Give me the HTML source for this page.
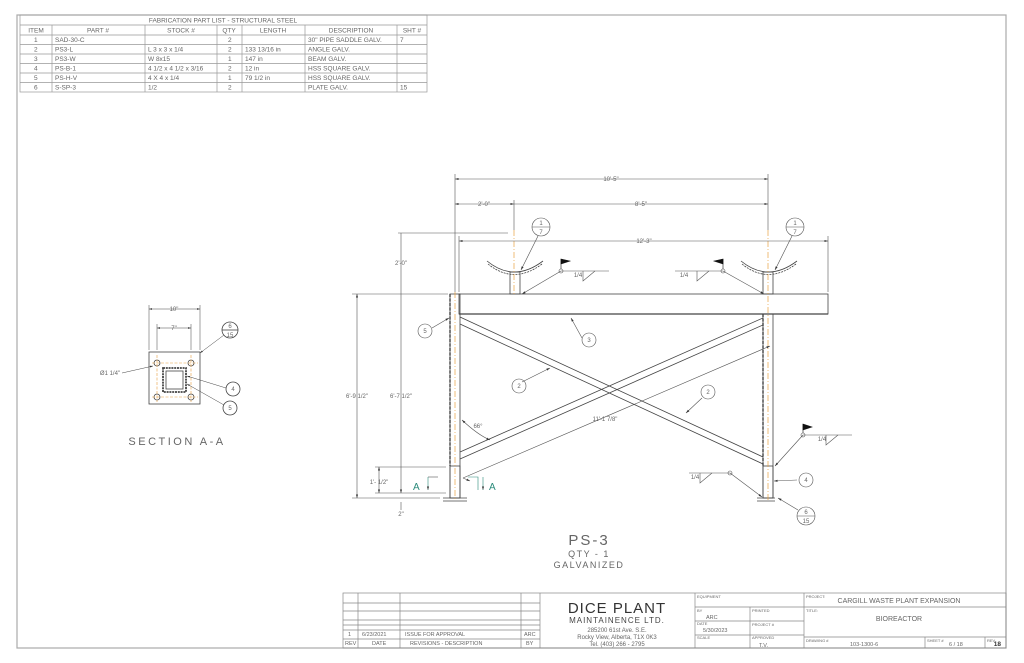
<!DOCTYPE html>
<html><head><meta charset="utf-8"><style>
html,body{margin:0;padding:0;background:#fff;}
svg{display:block;}
text{font-family:"Liberation Sans",sans-serif;fill:#666;}
</style></head><body>
<svg width="1024" height="663" viewBox="0 0 1024 663" xmlns="http://www.w3.org/2000/svg">
<defs>
<marker id="ar" viewBox="0 0 10 10" refX="10" refY="5" markerWidth="6" markerHeight="6" orient="auto-start-reverse"><path d="M0,2 L10,5 L0,8 z" fill="#333"/></marker>
</defs>
<!-- border -->
<rect x="17" y="15" width="989" height="633" fill="none" stroke="#aaa" stroke-width="1.2"/>

<!-- parts table -->
<g stroke="#999" stroke-width="0.7" fill="none">
<rect x="20" y="15" width="407" height="77"/>
<line x1="20" y1="25" x2="427" y2="25"/>
<line x1="20" y1="35" x2="427" y2="35"/>
<line x1="20" y1="44.5" x2="427" y2="44.5"/>
<line x1="20" y1="54" x2="427" y2="54"/>
<line x1="20" y1="63.5" x2="427" y2="63.5"/>
<line x1="20" y1="73" x2="427" y2="73"/>
<line x1="20" y1="82.5" x2="427" y2="82.5"/>
<line x1="52" y1="25" x2="52" y2="92"/><line x1="145" y1="25" x2="145" y2="92"/>
<line x1="217" y1="25" x2="217" y2="92"/><line x1="242" y1="25" x2="242" y2="92"/>
<line x1="305" y1="25" x2="305" y2="92"/><line x1="397" y1="25" x2="397" y2="92"/>
</g>
<g font-size="6.5">
<text x="223" y="22.5" text-anchor="middle">FABRICATION PART LIST - STRUCTURAL STEEL</text>
<text x="36" y="32.5" text-anchor="middle">ITEM</text><text x="98" y="32.5" text-anchor="middle">PART #</text>
<text x="181" y="32.5" text-anchor="middle">STOCK #</text><text x="229" y="32.5" text-anchor="middle">QTY</text>
<text x="273" y="32.5" text-anchor="middle">LENGTH</text><text x="351" y="32.5" text-anchor="middle">DESCRIPTION</text>
<text x="412" y="32.5" text-anchor="middle">SHT #</text>
<text x="34" y="42">1</text><text x="55" y="42">SAD-30-C</text><text x="228" y="42">2</text><text x="308" y="42">30" PIPE SADDLE GALV.</text><text x="400" y="42">7</text>
<text x="34" y="51.5">2</text><text x="55" y="51.5">PS3-L</text><text x="148" y="51.5">L 3 x 3 x 1/4</text><text x="228" y="51.5">2</text><text x="245" y="51.5">133 13/16 in</text><text x="308" y="51.5">ANGLE GALV.</text>
<text x="34" y="61">3</text><text x="55" y="61">PS3-W</text><text x="148" y="61">W 8x15</text><text x="228" y="61">1</text><text x="245" y="61">147 in</text><text x="308" y="61">BEAM GALV.</text>
<text x="34" y="70.5">4</text><text x="55" y="70.5">PS-B-1</text><text x="148" y="70.5">4 1/2 x 4 1/2 x 3/16</text><text x="228" y="70.5">2</text><text x="245" y="70.5">12 in</text><text x="308" y="70.5">HSS SQUARE GALV.</text>
<text x="34" y="80">5</text><text x="55" y="80">PS-H-V</text><text x="148" y="80">4 X 4 x 1/4</text><text x="228" y="80">1</text><text x="245" y="80">79 1/2 in</text><text x="308" y="80">HSS SQUARE GALV.</text>
<text x="34" y="89.5">6</text><text x="55" y="89.5">S-SP-3</text><text x="148" y="89.5">1/2</text><text x="228" y="89.5">2</text><text x="308" y="89.5">PLATE GALV.</text><text x="400" y="89.5">15</text>
</g>

<!-- main elevation -->
<g stroke="#444" stroke-width="0.8" fill="none">
<!-- beam -->
<rect x="459" y="294" width="369" height="20"/>
<line x1="459" y1="314" x2="828" y2="314" stroke-width="1.3"/>
<!-- left column -->
<rect x="450" y="294" width="10" height="204"/>
<line x1="450" y1="294" x2="450" y2="466" stroke-dasharray="3,1.5" stroke-width="1.4"/>
<rect x="450" y="466" width="10" height="32"/>
<line x1="443" y1="498" x2="467" y2="498"/><line x1="443" y1="501" x2="467" y2="501"/>
<!-- right column -->
<rect x="763" y="314" width="10" height="184"/>
<line x1="763" y1="314" x2="763" y2="466" stroke-dasharray="3,1.5" stroke-width="1.4"/>
<rect x="763" y="466" width="10" height="32"/>
<line x1="757" y1="498" x2="775" y2="498"/><line x1="757" y1="501" x2="775" y2="501"/>
<!-- braces -->
<line x1="460" y1="317" x2="763" y2="457"/><line x1="460" y1="324" x2="763" y2="464"/>
<line x1="460" y1="452" x2="763" y2="318"/><line x1="460" y1="459" x2="763" y2="325"/>
<!-- saddles -->
<path d="M487,261 Q514,283 543,261"/><path d="M488,264 Q514,285 542,264" stroke-dasharray="2,1"/>
<rect x="510" y="272" width="10" height="22"/>
<path d="M741,261 Q768,283 797,261"/><path d="M742,264 Q768,285 796,264" stroke-dasharray="2,1"/>
<rect x="763" y="272" width="10" height="22"/>
</g>
<!-- center lines -->
<g stroke="#e8a040" stroke-width="0.7" stroke-dasharray="6,2,1,2">
<line x1="455" y1="292" x2="455" y2="500"/><line x1="768" y1="230" x2="768" y2="500"/>
<line x1="514" y1="230" x2="514" y2="296"/>
</g>
<!-- dimensions -->
<g stroke="#555" stroke-width="0.6" fill="none">
<line x1="455" y1="174" x2="455" y2="292"/><line x1="768" y1="174" x2="768" y2="230"/>
<line x1="514" y1="200" x2="514" y2="230"/><line x1="828" y1="236" x2="828" y2="292"/>
<line x1="459" y1="236" x2="459" y2="292"/>
<line x1="455" y1="179" x2="768" y2="179" marker-start="url(#ar)" marker-end="url(#ar)"/>
<line x1="455" y1="204" x2="514" y2="204" marker-start="url(#ar)" marker-end="url(#ar)"/>
<line x1="514" y1="204" x2="768" y2="204" marker-end="url(#ar)"/>
<line x1="459" y1="241" x2="828" y2="241" marker-start="url(#ar)" marker-end="url(#ar)"/>
<line x1="398" y1="233" x2="508" y2="233"/>
<line x1="401" y1="233" x2="401" y2="294"/>
<line x1="352" y1="294" x2="448" y2="294"/>
<line x1="357" y1="294" x2="357" y2="498" marker-start="url(#ar)" marker-end="url(#ar)"/>
<line x1="401" y1="294" x2="401" y2="493" marker-end="url(#ar)"/>
<line x1="352" y1="498" x2="440" y2="498"/>
<line x1="375" y1="467" x2="446" y2="467"/><line x1="375" y1="493" x2="446" y2="493"/>
<line x1="379" y1="467" x2="379" y2="493" marker-start="url(#ar)" marker-end="url(#ar)"/>
<line x1="401" y1="502" x2="401" y2="510"/>
<!-- 66 deg and length dim -->
<path d="M462,420 Q478,435 490,440" marker-start="url(#ar)" marker-end="url(#ar)"/>
<line x1="463" y1="478" x2="770" y2="346" marker-end="url(#ar)"/>
<line x1="463" y1="478" x2="470" y2="481" marker-end="url(#ar)"/>
<!-- leaders -->
<line x1="432" y1="328" x2="449" y2="318" marker-end="url(#ar)"/>
<line x1="582" y1="338" x2="571" y2="318" marker-end="url(#ar)"/>
<line x1="522" y1="382" x2="550" y2="368" marker-end="url(#ar)"/>
<line x1="702" y1="398" x2="686" y2="413" marker-end="url(#ar)"/>
<line x1="538" y1="236" x2="521" y2="270" marker-end="url(#ar)"/>
<line x1="792" y1="236" x2="775" y2="270" marker-end="url(#ar)"/>
<line x1="561" y1="271" x2="522" y2="294" marker-end="url(#ar)"/>
<line x1="561" y1="271" x2="609" y2="271"/>
<line x1="723" y1="271" x2="764" y2="294" marker-end="url(#ar)"/>
<line x1="675" y1="271" x2="723" y2="271"/>
<line x1="803" y1="435" x2="775" y2="466" marker-end="url(#ar)"/>
<line x1="803" y1="435" x2="852" y2="435"/>
<line x1="730" y1="473" x2="762" y2="497" marker-end="url(#ar)"/>
<line x1="689" y1="473" x2="730" y2="473"/>
<line x1="797" y1="480" x2="774" y2="481" marker-end="url(#ar)"/>
<line x1="798" y1="510" x2="778" y2="498" marker-end="url(#ar)"/>
<!-- weld triangles -->
<path d="M583,271 L583,281 L595,271"/><path d="M697,271 L697,281 L709,271"/>
<path d="M826,435 L826,445 L838,435"/><path d="M700,473 L700,483 L712,473"/>
<!-- balloons -->
<circle cx="425" cy="331" r="7"/><circle cx="589" cy="340" r="7"/>
<circle cx="519" cy="386" r="7"/><circle cx="708" cy="392" r="7"/>
<circle cx="541" cy="227" r="9"/><line x1="532" y1="227" x2="550" y2="227"/>
<circle cx="795" cy="227" r="9"/><line x1="786" y1="227" x2="804" y2="227"/>
<circle cx="806" cy="480" r="7"/>
<circle cx="806" cy="516" r="9"/><line x1="797" y1="516" x2="815" y2="516"/>
<circle cx="561" cy="271" r="2"/><circle cx="723" cy="271" r="2"/>
<circle cx="803" cy="435" r="2"/><circle cx="730" cy="473" r="2"/>
<!-- section arrows -->
<polyline points="428,477 438,477"/><polyline points="468,477 478,477 478,490" stroke="#2a8a7a"/>
<line x1="428" y1="477" x2="428" y2="490" stroke="#2a8a7a" marker-end="url(#ar)"/>
<line x1="483" y1="477" x2="483" y2="490" stroke="#2a8a7a" marker-end="url(#ar)"/>
</g>
<!-- flags -->
<g fill="#111" stroke="#111" stroke-width="0.6">
<line x1="561" y1="269" x2="561" y2="259"/><path d="M561,259 L570,261 L561,264z"/>
<line x1="723" y1="269" x2="723" y2="259"/><path d="M723,259 L714,261 L723,264z"/>
<line x1="803" y1="433" x2="803" y2="424"/><path d="M803,424 L812,427 L803,430z"/>
</g>
<g font-size="6" text-anchor="middle">
<text x="611" y="181">10'-5"</text><text x="484" y="206">2'-0"</text><text x="641" y="206">8'-5"</text>
<text x="644" y="243">12'-3"</text><text x="401" y="265">2'-0"</text>
<text x="357" y="398">6'-9 1/2"</text><text x="401" y="398">6'-7 1/2"</text>
<text x="379" y="484">1'- 1/2"</text><text x="401" y="516">2"</text>
<text x="478" y="428">66°</text><text x="605" y="421">11'-1 7/8"</text>
<text x="425" y="333">5</text><text x="589" y="342">3</text><text x="519" y="388">2</text><text x="708" y="394">2</text>
<text x="541" y="225">1</text><text x="541" y="234">7</text><text x="795" y="225">1</text><text x="795" y="234">7</text>
<text x="806" y="482">4</text><text x="806" y="514">6</text><text x="806" y="523">15</text>
<text x="578" y="277">1/4</text><text x="684" y="277">1/4</text><text x="822" y="441">1/4</text><text x="695" y="479">1/4</text>
</g>
<g font-size="10" fill="#2a8a7a"><text x="413" y="490" style="fill:#2a8a7a">A</text><text x="489" y="490" style="fill:#2a8a7a">A</text></g>

<!-- section A-A -->
<g stroke="#444" stroke-width="0.8" fill="none">
<rect x="149" y="352" width="51" height="52"/>
<rect x="163" y="368" width="23" height="24" stroke-width="1.8" stroke-dasharray="2,0.8"/>
<rect x="166" y="371" width="17" height="18"/>
<circle cx="157" cy="363" r="3"/><circle cx="191" cy="363" r="3"/><circle cx="157" cy="397" r="3"/><circle cx="191" cy="397" r="3"/>
<g stroke="#e8a040" stroke-dasharray="3,1.5" stroke-width="0.6"><line x1="157" y1="355" x2="157" y2="402"/><line x1="191" y1="355" x2="191" y2="402"/><line x1="152" y1="363" x2="198" y2="363"/><line x1="152" y1="397" x2="198" y2="397"/></g>
<line x1="149" y1="305" x2="149" y2="350" stroke-width="0.5"/><line x1="200" y1="305" x2="200" y2="350" stroke-width="0.5"/>
<line x1="157" y1="324" x2="157" y2="350" stroke-width="0.5"/><line x1="191" y1="324" x2="191" y2="350" stroke-width="0.5"/>
<line x1="149" y1="309" x2="200" y2="309" stroke-width="0.5" marker-start="url(#ar)" marker-end="url(#ar)"/>
<line x1="157" y1="328" x2="191" y2="328" stroke-width="0.5" marker-start="url(#ar)" marker-end="url(#ar)"/>
<circle cx="230" cy="330" r="8"/><line x1="222" y1="330" x2="238" y2="330"/>
<circle cx="233" cy="389" r="7"/><circle cx="230" cy="408" r="7"/>
<line x1="224" y1="335" x2="200" y2="353" stroke-width="0.5" marker-end="url(#ar)"/>
<line x1="226" y1="388" x2="187" y2="376" stroke-width="0.5" marker-end="url(#ar)"/>
<line x1="224" y1="405" x2="187" y2="384" stroke-width="0.5" marker-end="url(#ar)"/>
<line x1="122" y1="373" x2="153" y2="366" stroke-width="0.5" marker-end="url(#ar)"/>
</g>
<g font-size="6" text-anchor="middle">
<text x="174" y="311">10"</text><text x="174" y="330">7"</text>
<text x="230" y="328">6</text><text x="230" y="337">15</text><text x="233" y="391">4</text><text x="230" y="410">5</text>
<text x="110" y="375">Ø1 1/4"</text>
</g>
<text x="177" y="445" font-size="11" text-anchor="middle" letter-spacing="2.5">SECTION A-A</text>

<text x="589" y="545" font-size="15" text-anchor="middle" letter-spacing="2">PS-3</text>
<text x="589" y="557" font-size="9" text-anchor="middle" letter-spacing="1.5">QTY - 1</text>
<text x="589" y="568" font-size="9" text-anchor="middle" letter-spacing="1.5">GALVANIZED</text>

<!-- title block -->
<g stroke="#888" stroke-width="0.7" fill="none">
<rect x="343" y="593" width="663" height="55"/>
<line x1="358" y1="593" x2="358" y2="648"/><line x1="400" y1="593" x2="400" y2="648"/>
<line x1="521" y1="593" x2="521" y2="648"/><line x1="540" y1="593" x2="540" y2="648"/>
<line x1="695" y1="593" x2="695" y2="648"/><line x1="804" y1="593" x2="804" y2="648"/>
<line x1="343" y1="603" x2="540" y2="603"/><line x1="343" y1="611" x2="540" y2="611"/>
<line x1="343" y1="620" x2="540" y2="620"/><line x1="343" y1="625" x2="540" y2="625"/>
<line x1="343" y1="630" x2="540" y2="630"/><line x1="343" y1="639" x2="540" y2="639"/>
<line x1="695" y1="607" x2="804" y2="607"/><line x1="750" y1="607" x2="750" y2="648"/>
<line x1="695" y1="621" x2="804" y2="621"/><line x1="695" y1="635" x2="804" y2="635"/>
<line x1="804" y1="607" x2="1006" y2="607"/><line x1="804" y1="637" x2="1006" y2="637"/>
<line x1="925" y1="637" x2="925" y2="648"/><line x1="985" y1="637" x2="985" y2="648"/>
</g>
<g font-size="5.5">
<text x="348" y="636">1</text><text x="362" y="636">6/23/2021</text><text x="405" y="636">ISSUE FOR APPROVAL</text><text x="524" y="636">ARC</text>
<text x="345" y="645">REV</text><text x="372" y="645">DATE</text><text x="410" y="645">REVISIONS - DESCRIPTION</text><text x="526" y="645">BY</text>
<text x="697" y="598" font-size="4">EQUIPMENT</text><text x="697" y="612" font-size="4">BY</text><text x="752" y="612" font-size="4">PRINTED</text>
<text x="706" y="619">ARC</text><text x="697" y="625" font-size="4">DATE</text><text x="752" y="626" font-size="4">PROJECT #</text>
<text x="703" y="632">5/30/2023</text><text x="697" y="639" font-size="4">SCALE</text><text x="752" y="639" font-size="4">APPROVED</text>
<text x="759" y="647">T.V.</text>
<text x="806" y="598" font-size="4">PROJECT:</text><text x="806" y="612" font-size="4">TITLE:</text>
<text x="806" y="642" font-size="4">DRAWING #</text><text x="927" y="642" font-size="4">SHEET #</text><text x="987" y="642" font-size="4">REV</text>
<text x="850" y="646">103-1300-6</text><text x="949" y="646">6 / 18</text>
</g>
<text x="899" y="603" font-size="7" text-anchor="middle">CARGILL WASTE PLANT EXPANSION</text>
<text x="899" y="621" font-size="7" text-anchor="middle">BIOREACTOR</text>
<text x="1001" y="646" font-size="6.5" text-anchor="end" style="fill:#333;font-weight:bold">18</text>
<text x="617" y="613" font-size="15" text-anchor="middle" style="fill:#333" letter-spacing="1">DICE PLANT</text>
<text x="617" y="623" font-size="8" text-anchor="middle" style="fill:#444" letter-spacing="1">MAINTAINENCE LTD.</text>
<text x="617" y="632" font-size="6" text-anchor="middle">285200 61st Ave. S.E.</text>
<text x="617" y="639" font-size="6" text-anchor="middle">Rocky View, Alberta, T1X 0K3</text>
<text x="617" y="646" font-size="6" text-anchor="middle">Tel. (403) 266 - 2795</text>
</svg>
</body></html>
